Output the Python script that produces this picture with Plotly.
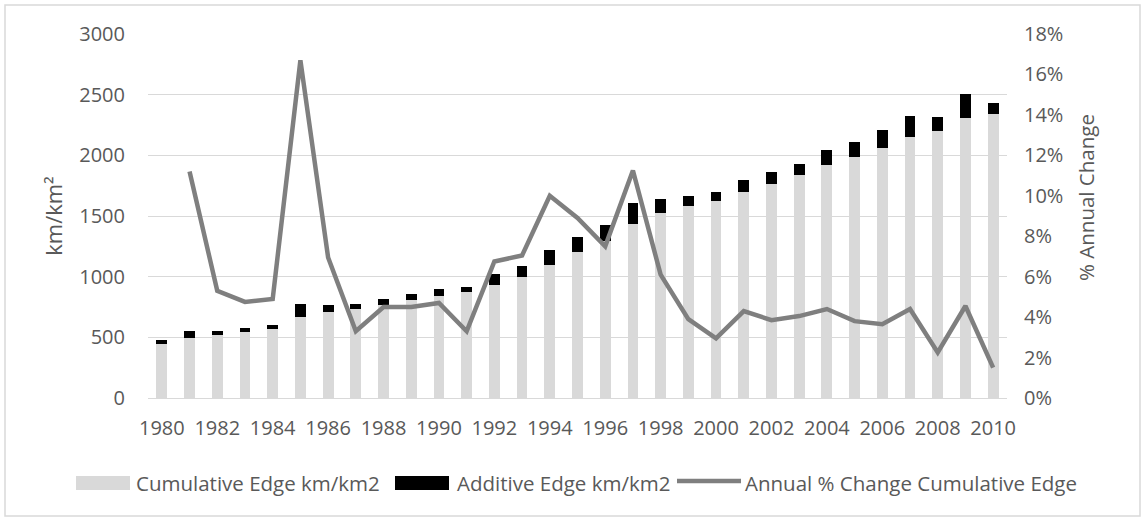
import plotly.graph_objects as go

years = list(range(1980, 2011))

cumulative_edge = [441, 495, 520, 545, 570, 665, 712, 737, 770, 805,
                   844, 871, 931, 997, 1099, 1200, 1298, 1432, 1522, 1580,
                   1626, 1698, 1764, 1835, 1917, 1988, 2062, 2153, 2202, 2307,
                   2339]

additive_edge = [36, 55, 30, 28, 32, 110, 52, 38, 49, 50,
                 51, 41, 88, 93, 123, 127, 126, 176, 119, 88,
                 68, 99, 99, 93, 126, 121, 146, 172, 115, 197,
                 91]

# annual % change of the cumulative edge (no value for the first year)
annual_pct_change = [None, 11.2, 5.3, 4.75, 4.9, 16.7, 6.95, 3.3, 4.5, 4.5,
                     4.7, 3.3, 6.75, 7.05, 10.0, 8.9, 7.5, 11.25, 6.1, 3.9,
                     2.95, 4.3, 3.85, 4.05, 4.4, 3.8, 3.65, 4.4, 2.25, 4.55,
                     1.5]

x_ticks = list(range(1980, 2011, 2))
pct_ticks = list(range(0, 19, 2))

legend_names = ['Cumulative Edge km/km2', 'Additive Edge km/km2',
                'Annual % Change Cumulative Edge']

font_color = '#595959'
grid_color = '#d9d9d9'
bar_gray = '#d9d9d9'
line_gray = '#7f7f7f'

# plot area in pixels: x 148..1007, y 34..398
W, H = 1146, 521
L, R, T, B = 148, 139, 34, 123
pw, ph = W - L - R, H - T - B


def px(x):
    return (x - L) / pw


def py(y):
    return (H - B - y) / ph


fig = go.Figure()

fig.add_trace(go.Bar(
    x=years, y=cumulative_edge,
    name=legend_names[0],
    marker=dict(color=bar_gray, line=dict(width=0)),
    width=0.39, showlegend=False
))

fig.add_trace(go.Bar(
    x=years, y=additive_edge,
    name=legend_names[1],
    marker=dict(color='#000000', line=dict(width=0)),
    width=0.39, showlegend=False
))

fig.add_trace(go.Scatter(
    x=years, y=[None if v is None else v / 100 for v in annual_pct_change],
    name=legend_names[2],
    mode='lines',
    line=dict(color=line_gray, width=4.5),
    yaxis='y2', showlegend=False
))

# hand-made legend below the plot (Excel style wide swatches)
shapes = [
    dict(type='rect', xref='paper', yref='paper',
         x0=px(5), x1=px(1140), y0=py(516), y1=py(5),
         line=dict(color=grid_color, width=1.5),
         fillcolor='rgba(0,0,0,0)', layer='below'),
    dict(type='rect', xref='paper', yref='paper',
         x0=px(76), x1=px(130), y0=py(490), y1=py(476),
         line=dict(width=0), fillcolor=bar_gray),
    dict(type='rect', xref='paper', yref='paper',
         x0=px(395), x1=px(449), y0=py(490), y1=py(476),
         line=dict(width=0), fillcolor='#000000'),
    dict(type='line', xref='paper', yref='paper',
         x0=px(677), x1=px(741), y0=py(481), y1=py(481),
         line=dict(color=line_gray, width=4.5)),
]

annotations = []
for name, x0 in zip(legend_names, [134, 455, 743]):
    annotations.append(dict(
        text=name, xref='paper', yref='paper',
        x=px(x0), y=py(483), xanchor='left', yanchor='middle',
        showarrow=False, font=dict(size=20.5, color=font_color)
    ))

# right axis title sits a little above the plot centre in the original
annotations.append(dict(
    text='% Annual Change', xref='paper', yref='paper',
    x=px(1086), y=py(198), xanchor='center', yanchor='middle',
    textangle=-90, showarrow=False, font=dict(size=20.5, color=font_color)
))

fig.update_layout(
    width=W, height=H,
    barmode='stack',
    plot_bgcolor='white',
    paper_bgcolor='white',
    font=dict(family='Open Sans', size=20, color=font_color),
    margin=dict(l=L, r=R, t=T, b=B),
    showlegend=False,
    xaxis=dict(
        range=[1979.5, 2010.5],
        tickvals=x_ticks,
        showgrid=False,
        showline=True, linecolor=grid_color, linewidth=1,
        ticks='', ticklabelstandoff=12, automargin=False
    ),
    yaxis=dict(
        range=[0, 3000], dtick=500,
        showgrid=True, gridcolor=grid_color, gridwidth=1,
        zeroline=False,
        ticks='', ticklabelstandoff=22, automargin=False,
        title=dict(text='km/km²', standoff=10, font=dict(size=22))
    ),
    yaxis2=dict(
        range=[0, 0.18],
        tickvals=[v / 100 for v in pct_ticks],
        tickformat='.0%',
        overlaying='y', side='right',
        showgrid=False, zeroline=False,
        ticks='', ticklabelstandoff=16, automargin=False
    ),
    shapes=shapes,
    annotations=annotations
)

# drop the default page margin so the figure sits at the window corner
fig.write_html("out.html", config={'displayModeBar': False},
               post_script="document.body.style.margin='0';")
